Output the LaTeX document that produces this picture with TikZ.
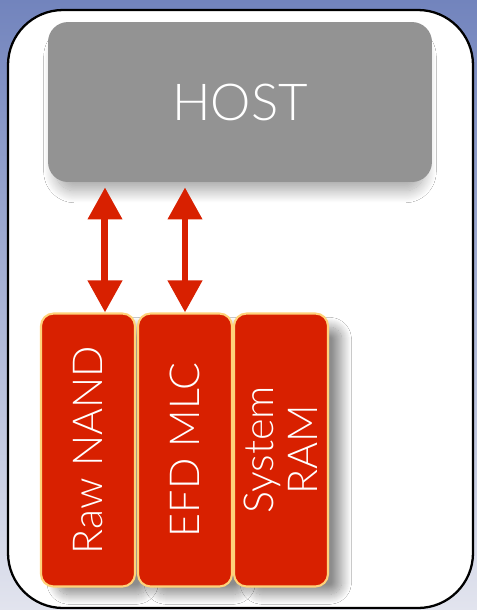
\documentclass[tikz,border=0pt]{standalone}
\usepackage{fontspec}
\setmainfont{Lato Light}
\usepackage{xcolor}
\usetikzlibrary{arrows.meta,shapes,shadows.blur}

\definecolor{hostgrey}{HTML}{939393}
\definecolor{memred}{HTML}{D82000}
\definecolor{memedge}{HTML}{FFD27A}
\definecolor{bgtop}{HTML}{7284BD}
\definecolor{bgbot}{HTML}{E2E4EE}

\tikzset{
  hostbox/.style={fill=hostgrey, rounded corners=0.4cm, minimum width=7.68cm,
    minimum height=3.2cm, text=white, font=\fontsize{29}{34}\selectfont,
    blur shadow={shadow xshift=0pt, shadow yshift=-0.25cm, shadow scale=0.96,
      shadow blur radius=0.25cm, shadow blur steps=20, shadow opacity=35}},
  membox/.style={fill=memred, draw=memedge, line width=1.2pt, rounded corners=0.25cm,
    minimum width=1.88cm, minimum height=5.46cm,
    blur shadow={shadow xshift=0.3cm, shadow yshift=-0.22cm, shadow scale=0.98,
      shadow blur radius=0.2cm, shadow blur steps=20, shadow opacity=45}},
  memtext/.style={rotate=90, text=white, align=center,
    font=\fontsize{23.5}{25}\selectfont},
  link/.style={draw=memred, line width=0.14cm,
    {Triangle[length=0.64cm,width=0.66cm]}-{Triangle[length=0.64cm,width=0.66cm]}}
}

\begin{document}
\begin{tikzpicture}[x=0.02cm,y=-0.02cm]
        \useasboundingbox (0,0) rectangle (477,610);
        \shade[top color=bgtop, bottom color=bgbot] (0,0) rectangle (477,610);
        \draw[fill=white, line width=1.3pt, rounded corners=1.1cm] (8,10) rectangle (473,608);

        \node[hostbox] (host) at (240,102) {HOST};

        \node[membox] (raw) at (88,450) {};
        \node[membox] (efd) at (185,450) {};
        \node[membox] (ram) at (281,450) {};

        \node[memtext] (rawtxt) at (raw.center) {Raw NAND};
        \node[memtext] (efdtxt) at (efd.center) {EFD MLC};
        \node[memtext] (ramtxt) at (ram.center) {System\\RAM};

        %\draw[link] (host) -- (raw);
        \draw[link] ([xshift=0.34cm]raw.north) -- ([xshift=0.34cm,yshift=-0.1cm]raw.north |- host.south);
        \draw[link] (efd.north) -- ([yshift=-0.1cm]efd.north |- host.south);
    \end{tikzpicture}
\end{document}
